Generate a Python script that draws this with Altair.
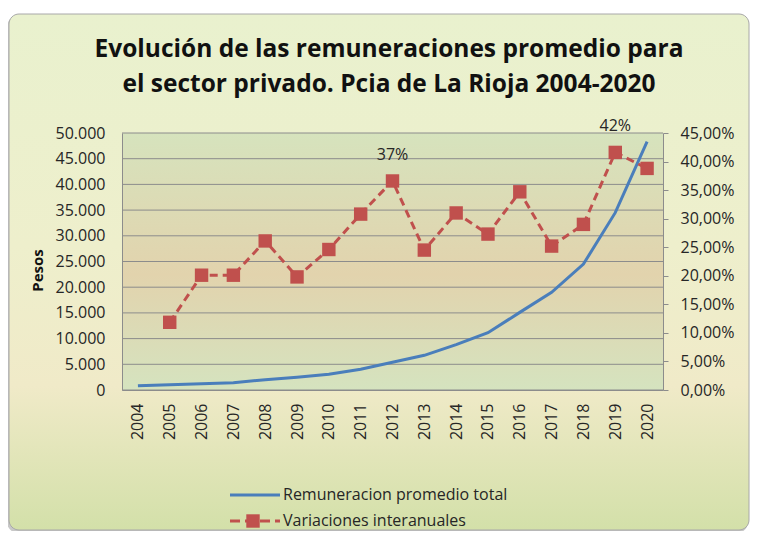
import altair as alt
import pandas as pd

# ---------------- data ----------------
years = [str(y) for y in range(2004, 2021)]
remuneracion = [840, 1030, 1230, 1420, 2000, 2470, 3050, 4030, 5390, 6750,
                8820, 11150, 15100, 19000, 24500, 34500, 48300]
var_years = years[1:]
variaciones = [0.1185, 0.201, 0.201, 0.261, 0.198, 0.246, 0.308, 0.366,
               0.245, 0.310, 0.273, 0.347, 0.252, 0.290, 0.416, 0.388]
label_years = ["2012", "2019"]
left_ticks = [0, 5000, 10000, 15000, 20000, 25000, 30000, 35000, 40000, 45000, 50000]
right_ticks = [0, 0.05, 0.10, 0.15, 0.20, 0.25, 0.30, 0.35, 0.40, 0.45]
series_names = ["Remuneracion promedio total", "Variaciones interanuales"]
title_lines = ["Evolución de las remuneraciones promedio para",
               "el sector privado. Pcia de La Rioja 2004-2020"]
y_title = "Pesos"

df_rem = pd.DataFrame({"year": years, "remuneracion": remuneracion})
df_var = pd.DataFrame({"year": var_years, "variacion": variaciones})

W, H = 541, 257
BLUE = "#4a7ebb"
RED = "#c0504d"
GRID = "#8c8c8c"
TXT = "#262626"
FONT = "Open Sans"

x_enc = alt.X("year:O",
              scale=alt.Scale(domain=years, type="point", padding=0.5),
              axis=alt.Axis(labelAngle=-90, ticks=False, tickSize=0, labelPadding=13,
                            grid=False, title=None, domainColor=GRID, zindex=1))

one = pd.DataFrame({"a": [0]})

shadow = alt.Chart(one).mark_rect(cornerRadius=11, fill="#9a9a9a", opacity=0.55).encode(
    x=alt.value(-115), x2=alt.value(626), y=alt.value(-117), y2=alt.value(400))

frame = alt.Chart(one).mark_rect(
    cornerRadius=10,
    fill=alt.Gradient(gradient="linear", x1=0, x2=0, y1=0, y2=1,
                      stops=[alt.GradientStop(offset=0, color="#e9f1ce"),
                             alt.GradientStop(offset=0.45, color="#eeefcc"),
                             alt.GradientStop(offset=0.72, color="#f0eac8"),
                             alt.GradientStop(offset=1, color="#d3e0a9")]),
    stroke="#a8a8a8", strokeWidth=1).encode(
    x=alt.value(-113), x2=alt.value(627), y=alt.value(-119), y2=alt.value(397))

plot_bg = alt.Chart(one).mark_rect(
    fill=alt.Gradient(gradient="linear", x1=0, x2=0, y1=0, y2=1,
                      stops=[alt.GradientStop(offset=0, color="#d6e3bd"),
                             alt.GradientStop(offset=0.55, color="#e2d3ad"),
                             alt.GradientStop(offset=1, color="#d5e3bf")])).encode(
    x=alt.value(0), x2=alt.value(W), y=alt.value(0), y2=alt.value(H))

grid = alt.Chart(pd.DataFrame({"v": left_ticks})).mark_rule(color=GRID, strokeWidth=1).encode(
    y=alt.Y("v:Q", scale=alt.Scale(domain=[0, 50000], nice=False), axis=None))

blue = alt.Chart(df_rem).mark_line(color=BLUE, strokeWidth=3).encode(
    x=x_enc,
    y=alt.Y("remuneracion:Q", scale=alt.Scale(domain=[0, 50000], nice=False),
            axis=alt.Axis(values=left_ticks,
                          labelExpr="replace(format(datum.value, ',d'), ',', '.')",
                          ticks=False, tickSize=0, labelPadding=17, grid=False,
                          domainColor=GRID, title=y_title, titleX=-85, titleY=137,
                          titleAngle=-90, titleFontSize=15, titleFontWeight="bold",
                          titleFont=FONT, titleColor="#111111", titleAlign="center",
                          titleBaseline="middle", zindex=1)))

red = alt.Chart(df_var).mark_line(
    color=RED, strokeWidth=3, strokeDash=[8, 5],
    point=alt.OverlayMarkDef(shape="square", filled=True, size=180, color=RED, opacity=1)).encode(
    x=x_enc,
    y=alt.Y("variacion:Q", scale=alt.Scale(domain=[0, 0.45], nice=False),
            axis=alt.Axis(orient="right", values=right_ticks,
                          labelExpr="replace(format(datum.value, '.2%'), '.', ',')",
                          tickSize=5, labelPadding=12, grid=False, title=None,
                          domainColor=GRID, tickColor=GRID, zindex=1)))

labels = alt.Chart(df_var).transform_filter(
    alt.FieldOneOfPredicate(field="year", oneOf=label_years)).mark_text(
    dy=-26, fontSize=16, font=FONT, color=TXT, baseline="middle").encode(
    x=x_enc,
    y=alt.Y("variacion:Q", scale=alt.Scale(domain=[0, 0.45], nice=False), axis=None),
    text=alt.Text("variacion:Q", format=".0%"))

title1 = alt.Chart(pd.DataFrame({"t": [title_lines[0]]})).mark_text(
    font=FONT, fontSize=24.5, fontWeight="bold", color="#111111", align="center",
    baseline="alphabetic").encode(x=alt.value(267), y=alt.value(-76.5), text="t:N")
title2 = alt.Chart(pd.DataFrame({"t": [title_lines[1]]})).mark_text(
    font=FONT, fontSize=24.5, fontWeight="bold", color="#111111", align="center",
    baseline="alphabetic").encode(x=alt.value(267), y=alt.value(-41.5), text="t:N")

leg1_line = alt.Chart(one).mark_rule(color=BLUE, strokeWidth=3).encode(
    x=alt.value(108), x2=alt.value(158), y=alt.value(362))
leg1_text = alt.Chart(pd.DataFrame({"n": [series_names[0]]})).mark_text(
    font=FONT, fontSize=16, color=TXT, align="left", baseline="middle").encode(
    x=alt.value(161), y=alt.value(362), text="n:N")
leg2_line = alt.Chart(one).mark_rule(color=RED, strokeWidth=3, strokeDash=[10, 5]).encode(
    x=alt.value(108), x2=alt.value(158), y=alt.value(388))
leg2_pt = alt.Chart(one).mark_point(shape="square", filled=True, size=180, color=RED, opacity=1).encode(
    x=alt.value(131), y=alt.value(388))
leg2_text = alt.Chart(pd.DataFrame({"n": [series_names[1]]})).mark_text(
    font=FONT, fontSize=16, color=TXT, align="left", baseline="middle").encode(
    x=alt.value(161), y=alt.value(388), text="n:N")

chart = alt.layer(
    shadow, frame, plot_bg, grid, blue, red, labels,
    title1, title2, leg1_line, leg1_text, leg2_line, leg2_pt, leg2_text
).resolve_scale(y="independent").properties(
    width=W, height=H,
    autosize=alt.AutoSizeParams(type="none"),
    padding={"left": 114, "top": 125, "right": 87, "bottom": 141},
    background="white",
).configure_view(strokeWidth=0).configure_axis(
    labelFont=FONT, labelFontSize=16, labelColor=TXT
)

chart.save("out.html", embed_options={"renderer": "svg", "actions": False})
